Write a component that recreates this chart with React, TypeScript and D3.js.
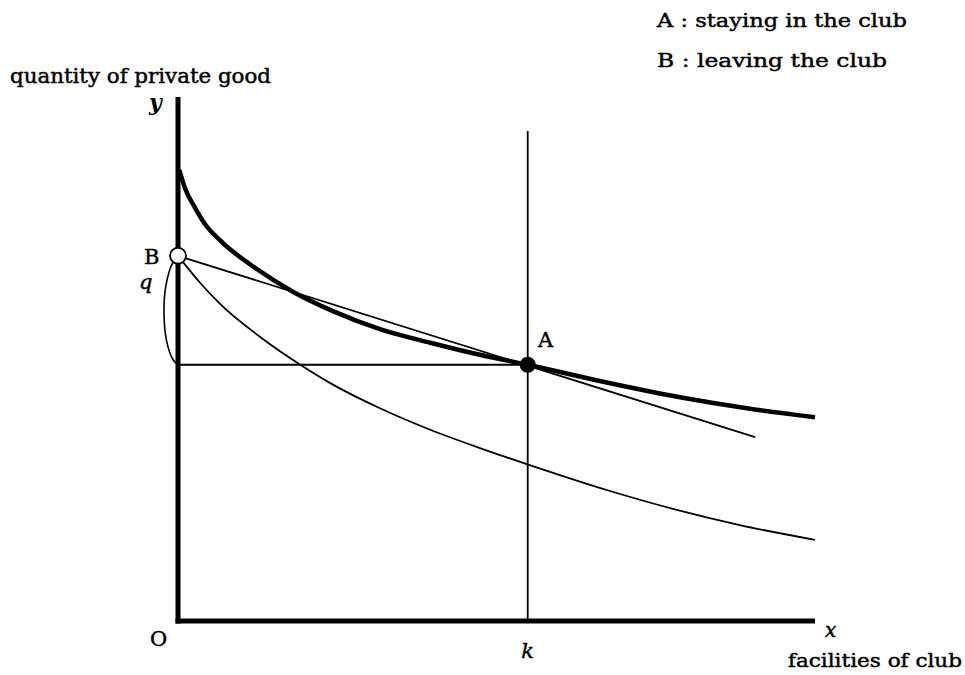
import React from 'react';
import * as d3 from 'd3';

// thick curve: staying in the club
const stayCurve: [number, number][] = [
  [0.02, 8.61], [0.11, 8.26], [0.27, 7.88], [0.42, 7.58], [0.69, 7.23], [1.21, 6.74],
  [1.81, 6.28], [2.46, 5.90], [3.17, 5.57], [3.96, 5.31], [4.74, 5.08], [5.49, 4.89],
  [6.62, 4.58], [7.88, 4.27], [8.93, 4.06], [10.0, 3.89],
];

// thin curve through B: leaving the club
const leaveCurve: [number, number][] = [
  [0, 6.97], [0.35, 6.45], [0.66, 6.05], [1.29, 5.42], [1.92, 4.89], [2.39, 4.54],
  [3.17, 4.06], [3.96, 3.65], [4.74, 3.30], [5.51, 2.98], [6.73, 2.50], [7.77, 2.14],
  [8.82, 1.83], [10.0, 1.55],
];

const budgetLine: [number, number][] = [[0, 6.97], [9.06, 3.51]];

const pointA: [number, number] = [5.49, 4.89];
const pointB: [number, number] = [0, 6.97];
const kValue = 5.49;
const kLineTop = 9.35;

// brace marking q between B and the level of A
const brace: [number, number][] = [
  [0, 6.93], [-0.08, 6.84], [-0.19, 6.4], [-0.22, 5.9], [-0.18, 5.35], [-0.08, 4.99], [0, 4.89],
];

const legendLines = ['A : staying in the club', 'B : leaving the club'];
const yTitle = 'quantity of private good';
const xTitle = 'facilities of club';

const W = 965;
const H = 675;

export default function App() {
  const x = d3.scaleLinear().domain([0, 10]).range([178, 815]);
  const y = d3.scaleLinear().domain([0, 10]).range([621, 97]);

  const smooth = d3.line<[number, number]>()
    .x(d => x(d[0]))
    .y(d => y(d[1]))
    .curve(d3.curveMonotoneX);
  const braceLine = d3.line<[number, number]>()
    .x(d => x(d[0]))
    .y(d => y(d[1]))
    .curve(d3.curveCatmullRom.alpha(0.5));
  const straight = d3.line<[number, number]>()
    .x(d => x(d[0]))
    .y(d => y(d[1]));

  const font = '"DejaVu Serif", serif';
  const txt = { fill: '#000', stroke: '#000', strokeWidth: 0.45 };

  return (
    <svg width={W} height={H} style={{ position: 'absolute', left: 0, top: 0, background: '#fff' }}
      fontFamily={font}>
      {/* legend */}
      <text x={657} y={27} fontSize={19} textLength={250} lengthAdjust="spacingAndGlyphs" {...txt}>{legendLines[0]}</text>
      <text x={657} y={67} fontSize={19} textLength={230} lengthAdjust="spacingAndGlyphs" {...txt}>{legendLines[1]}</text>

      <text x={10} y={83} fontSize={20} textLength={261} lengthAdjust="spacingAndGlyphs" {...txt}>{yTitle}</text>
      <text x={149} y={110} fontSize={22} fontStyle="italic" fontWeight="bold">y</text>

      {/* guide lines */}
      <line x1={x(kValue)} x2={x(kValue)} y1={y(kLineTop)} y2={y(0)} stroke="#000" strokeWidth={1.8} />
      <line x1={x(0)} x2={x(pointA[0])} y1={y(pointA[1])} y2={y(pointA[1])} stroke="#000" strokeWidth={1.8} />

      {/* curves */}
      <path d={smooth(leaveCurve) ?? ''} fill="none" stroke="#000" strokeWidth={1.8} />
      <path d={straight(budgetLine) ?? ''} fill="none" stroke="#000" strokeWidth={1.8} />
      <path d={smooth(stayCurve) ?? ''} fill="none" stroke="#000" strokeWidth={4.5} />
      <path d={braceLine(brace) ?? ''} fill="none" stroke="#000" strokeWidth={1.6} />

      {/* axes */}
      <line x1={x(0)} x2={x(0)} y1={y(10)} y2={y(0) + 2.5} stroke="#000" strokeWidth={5} />
      <line x1={x(0) - 2.5} x2={x(10)} y1={y(0)} y2={y(0)} stroke="#000" strokeWidth={5} />

      {/* points */}
      <circle cx={x(pointB[0])} cy={y(pointB[1])} r={8} fill="#fff" stroke="#000" strokeWidth={1.8} />
      <circle cx={x(pointA[0])} cy={y(pointA[1])} r={8} fill="#000" />

      <text x={144} y={264} fontSize={21} {...txt}>B</text>
      <text x={139} y={289} fontSize={21} fontStyle="italic" {...txt}>q</text>
      <text x={538} y={347} fontSize={21} {...txt}>A</text>
      <text x={150} y={646} fontSize={21} {...txt}>O</text>
      <text x={x(kValue)} y={658} fontSize={21} fontStyle="italic" textAnchor="middle" {...txt}>k</text>
      <text x={825} y={637} fontSize={20} fontStyle="italic" {...txt}>x</text>
      <text x={788} y={667} fontSize={19} textLength={174} lengthAdjust="spacingAndGlyphs" {...txt}>{xTitle}</text>
    </svg>
  );
}
